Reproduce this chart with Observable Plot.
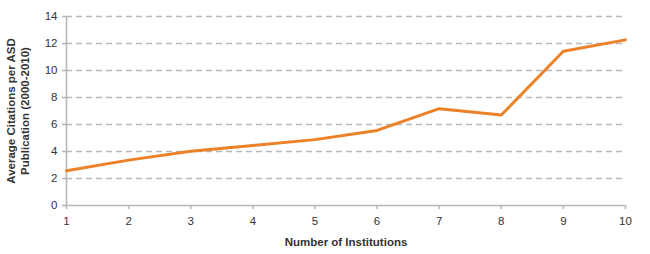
<!DOCTYPE html>
<html>
<head>
<meta charset="utf-8">
<script src="https://cdn.jsdelivr.net/npm/d3@7"></script>
<script src="https://cdn.jsdelivr.net/npm/@observablehq/plot@0.6"></script>
<style>
  html, body { margin: 0; padding: 0; background: #fff; }
  #chart svg { display: block; }
</style>
</head>
<body>
<div id="chart"></div>
<script>
const institutions = [1, 2, 3, 4, 5, 6, 7, 8, 9, 10];
const avgCitations = [2.57, 3.36, 4.02, 4.44, 4.88, 5.56, 7.17, 6.70, 11.43, 12.27];
const yTicks = [0, 2, 4, 6, 8, 10, 12, 14];
const gridTicks = [2, 4, 6, 8, 10, 12, 14];
const xLabel = "Number of Institutions";
const yLabel = "Average Citations per ASD\nPublication (2000-2010)";

const data = institutions.map((x, i) => ({x, y: avgCitations[i]}));

const chart = Plot.plot({
  width: 650,
  height: 254,
  marginLeft: 66,
  marginRight: 25,
  marginTop: 16,
  marginBottom: 49,
  style: {fontFamily: "'Liberation Sans', Arial, Helvetica, sans-serif", fontSize: "11px", color: "#333", background: "#fff"},
  x: {domain: [1, 10]},
  y: {domain: [0, 14]},
  marks: [
    Plot.ruleY(gridTicks, {stroke: "#b8b8b8", strokeWidth: 1.6, strokeDasharray: "6,4"}),
    Plot.ruleY([0], {stroke: "#b8b8b8", strokeWidth: 1.6}),
    Plot.ruleX([1], {stroke: "#b8b8b8", strokeWidth: 1.6}),
    Plot.axisX({ticks: institutions, tickFormat: d => d, tickSize: 4, tickPadding: 7, stroke: "#b8b8b8", strokeWidth: 1.6, label: null, fontSize: 11.5, fill: "#333"}),
    Plot.axisY({ticks: yTicks, tickSize: 4, tickPadding: 5, stroke: "#b8b8b8", strokeWidth: 1.6, label: null, fontSize: 11.5, fill: "#333"}),
    Plot.line(data, {x: "x", y: "y", stroke: "#ec8128", strokeWidth: 3, strokeLinejoin: "round"}),
    Plot.text([xLabel], {frameAnchor: "bottom", dy: 37, fontWeight: "bold", fontSize: 11.5, fill: "#333", lineAnchor: "middle"}),
    Plot.text([yLabel], {frameAnchor: "left", dx: -49, rotate: -90, textAnchor: "middle", fontWeight: "bold", fontSize: 11.5, fill: "#333", lineAnchor: "middle", lineHeight: 1.2})
  ]
});
document.getElementById("chart").appendChild(chart);
</script>
</body>
</html>
